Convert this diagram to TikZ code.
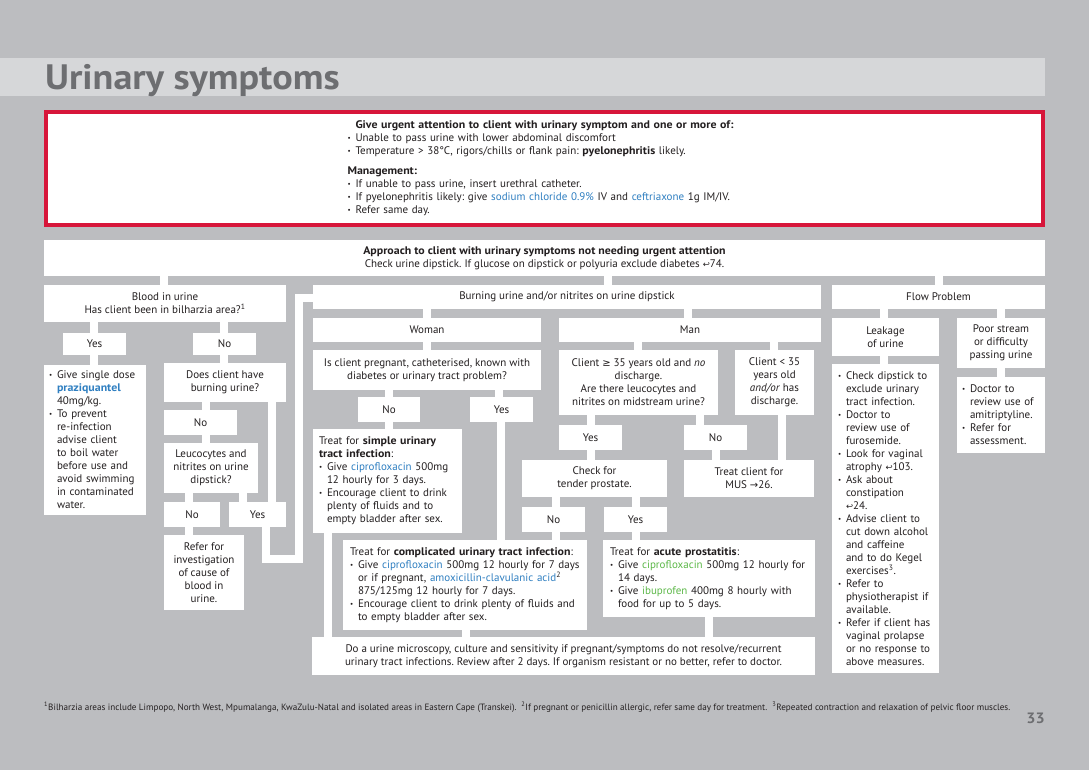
\documentclass[tikz,border=0pt]{standalone}
\usepackage{fontspec}
\setmainfont{PT Sans}[BoldFeatures={FakeStretch=1.08}]
\newfontfamily\dejavu{DejaVu Sans}
\definecolor{bg}{HTML}{BCBDC0}
\definecolor{band}{HTML}{D6D7D9}
\definecolor{redb}{HTML}{D7163A}
\definecolor{titlec}{HTML}{6D6E71}
\definecolor{drugblue}{HTML}{2F7FC1}
\definecolor{druggreen}{HTML}{5CB848}
\definecolor{txt}{HTML}{231F20}
\newcommand\blu[1]{\textcolor{drugblue}{#1}}
\newcommand\grn[1]{\textcolor{druggreen}{#1}}
\newcommand\bu{\makebox[8pt][l]{\fontsize{7}{7}\selectfont\raisebox{1.2pt}{•}}}
\newcommand\ind{\hspace*{8pt}}
\newcommand\hk{{\dejavu\fontsize{8.5}{8.5}\selectfont ↩}}
\newcommand\rarr{{\dejavu\fontsize{10}{10}\selectfont →}}
\newcommand\gesym{{\dejavu\fontsize{10}{10}\selectfont ≥}}
\newcommand\bx[6][]{\node[box,#1,minimum width={(#4-#2)*1pt},minimum height={(#5-#3)*1pt}] (#6) at ({(#2+#4)/2},{(#3+#5)/2})}
\frenchspacing
\begin{document}
\begin{tikzpicture}[x=1pt,y=-1pt,
  box/.style={fill=white,draw=none,inner sep=0pt,align=center,text=txt,font=\fontsize{11}{13}\selectfont},
  conn/.style={draw=white,line width=8pt,line join=miter}]
\useasboundingbox (0,0) rectangle (1089,770);
\fill[bg] (0,0) rectangle (1089,770);
\fill[band] (0,58) rectangle (1045,96);
\node[anchor=base west,inner sep=0pt,text=titlec,font=\fontsize{35.3}{36}\selectfont\bfseries] (title) at (45,90) {Urinary symptoms};
% urgent box
\node[box,draw=redb,line width=4pt,minimum width=997pt,minimum height=113pt,align=left,text width=394pt] (urgent) at (544.5,168.5)
{\makebox[394pt]{\bfseries Give urgent attention to client with urinary symptom and one or more of:}\\
\bu Unable to pass urine with lower abdominal discomfort\\
\bu Temperature > 38°C, rigors/chills or flank pain: \textbf{pyelonephritis} likely.\\[7pt]
\textbf{Management:}\\
\bu If unable to pass urine, insert urethral catheter.\\
\bu If pyelonephritis likely: give \blu{sodium chloride 0.9\%} IV and \blu{ceftriaxone} 1g IM/IV.\\
\bu Refer same day.};
% top
\bx{44}{240}{1045}{276}{top}{\textbf{Approach to client with urinary symptoms not needing urgent attention}\\Check urine dipstick. If glucose on dipstick or polyuria exclude diabetes \hk74.};
% row 2
\bx{44}{285}{286}{322}{blood}{Blood in urine\\Has client been in bilharzia area?\textsuperscript{1}};
\bx{313}{285}{821}{309}{burn}{Burning urine and/or nitrites on urine dipstick};
\bx{832}{285}{1045}{309}{flow}{Flow Problem};
% blood column
\bx{63}{333}{126}{355}{byes}{Yes};
\bx{193}{333}{256}{355}{bno}{No};
\bx[align=left,text width=92pt]{44}{365}{146}{515}{praz}{\bu Give single dose\\\ind\textbf{\blu{praziquantel}}\\\ind 40mg/kg.\\\bu To prevent\\\ind re-infection\\\ind advise client\\\ind to boil water\\\ind before use and\\\ind avoid swimming\\\ind in contaminated\\\ind water.};
\bx{164}{363}{286}{402}{does}{Does client have\\burning urine?};
\bx{164}{410}{237}{435}{lno}{No};
\bx{164}{443}{258}{493}{leuco}{Leucocytes and\\nitrites on urine\\dipstick?};
\bx{164}{502}{220}{527}{lno2}{No};
\bx{229}{502}{286}{527}{lyes}{Yes};
\bx{164}{535}{244}{610}{refer}{Refer for\\investigation\\of cause of\\blood in\\urine.};
% burning column
\bx{313}{318}{541}{342}{woman}{Woman};
\bx{559}{318}{821}{342}{man}{Man};
\bx{313}{350}{541}{390}{preg}{Is client pregnant, catheterised, known with\\diabetes or urinary tract problem?};
\bx{358}{397}{420}{422}{wno}{No};
\bx{470}{397}{533}{422}{wyes}{Yes};
\bx[align=left,text width=137pt]{313}{429}{462}{533}{simple}{Treat for \textbf{simple urinary}\\\textbf{tract infection}:\\\bu Give \blu{ciprofloxacin} 500mg\\\ind 12 hourly for 3 days.\\\bu Encourage client to drink\\\ind plenty of fluids and to\\\ind empty bladder after sex.};
\bx[align=left,text width=230pt]{343}{540}{587}{630}{comp}{Treat for \textbf{complicated urinary tract infection}:\\\bu Give \blu{ciprofloxacin} 500mg 12 hourly for 7 days\\\ind or if pregnant, \blu{amoxicillin-clavulanic acid}\textsuperscript{2}\\\ind 875/125mg 12 hourly for 7 days.\\\bu Encourage client to drink plenty of fluids and\\\ind to empty bladder after sex.};
\bx{559}{350}{718}{415}{old}{Client \gesym{} 35 years old and \emph{no}\\discharge.\\Are there leucocytes and\\nitrites on midstream urine?};
\bx{735}{350}{814}{415}{young}{Client < 35\\years old\\\emph{and/or} has\\discharge.};
\bx{559}{425}{622}{450}{myes}{Yes};
\bx{684}{425}{747}{450}{mno}{No};
\bx{522}{460}{667}{497}{check}{Check for\\tender prostate.};
\bx{684}{460}{814}{497}{mus}{Treat client for\\MUS \rarr26.};
\bx{522}{507}{585}{532}{pno}{No};
\bx{604}{507}{667}{532}{pyes}{Yes};
\bx[align=left,text width=198pt]{603}{540}{815}{617}{prost}{Treat for \textbf{acute prostatitis}:\\\bu Give \grn{ciprofloxacin} 500mg 12 hourly for\\\ind 14 days.\\\bu Give \grn{ibuprofen} 400mg 8 hourly with\\\ind food for up to 5 days.};
\bx{312}{637}{815}{675}{micro}{Do a urine microscopy, culture and sensitivity if pregnant/symptoms do not resolve/recurrent\\urinary tract infections. Review after 2 days. If organism resistant or no better, refer to doctor.};
% flow column
\bx{832}{318}{939}{356}{leak}{Leakage\\of urine};
\bx{957}{318}{1045}{368}{poor}{Poor stream\\or difficulty\\passing urine};
\bx[align=left,text width=95pt]{832}{364}{939}{673}{leaklist}{\bu Check dipstick to\\\ind exclude urinary\\\ind tract infection.\\\bu Doctor to\\\ind review use of\\\ind furosemide.\\\bu Look for vaginal\\\ind atrophy \hk103.\\\bu Ask about\\\ind constipation\\\ind \hk24.\\\bu Advise client to\\\ind cut down alcohol\\\ind and caffeine\\\ind and to do Kegel\\\ind exercises\textsuperscript{3}.\\\bu Refer to\\\ind physiotherapist if\\\ind available.\\\bu Refer if client has\\\ind vaginal prolapse\\\ind or no response to\\\ind above measures.};
\bx[align=left,text width=78pt]{957}{377}{1045}{453}{poorlist}{\bu Doctor to\\\ind review use of\\\ind amitriptyline.\\\bu Refer for\\\ind assessment.};
% connectors
\draw[conn] (top.south -| 164,0) -- (blood.north -| 164,0);
\draw[conn] (top.south -| 608,0) -- (burn.north -| 608,0);
\draw[conn] (top.south -| 939,0) -- (flow.north -| 939,0);
\draw[conn] (blood.south -| 94,0) -- (byes.north -| 94,0);
\draw[conn] (blood.south -| 224,0) -- (bno.north -| 224,0);
\draw[conn] (byes.south -| 94,0) -- (praz.north -| 94,0);
\draw[conn] (bno.south -| 224,0) -- (does.north -| 224,0);
\draw[conn] (does.south -| 206,0) -- (lno.north -| 206,0);
\draw[conn] (lno.south -| 206,0) -- (leuco.north -| 206,0);
\draw[conn] (leuco.south -| 189,0) -- (lno2.north -| 189,0);
\draw[conn] (leuco.south -| 243,0) -- (lyes.north -| 243,0);
\draw[conn] (does.south -| 272,0) -- (lyes.north -| 272,0);
\draw[conn] (lno2.south -| 189,0) -- (refer.north -| 189,0);
\draw[conn] (lyes.south -| 266,0) |- (298.5,559) |- (burn.west |- 0,297.5);
\draw[conn] (burn.south -| 427,0) -- (woman.north -| 427,0);
\draw[conn] (burn.south -| 688,0) -- (man.north -| 688,0);
\draw[conn] (woman.south -| 427,0) -- (preg.north -| 427,0);
\draw[conn] (preg.south -| 389,0) -- (wno.north -| 389,0);
\draw[conn] (preg.south -| 499,0) -- (wyes.north -| 499,0);
\draw[conn] (wno.south -| 389,0) -- (simple.north -| 389,0);
\draw[conn] (wyes.south -| 501,0) -- (comp.north -| 501,0);
\draw[conn] (simple.south -| 328,0) -- (micro.north -| 328,0);
\draw[conn] (comp.south -| 466,0) -- (micro.north -| 466,0);
\draw[conn] (man.south -| 638,0) -- (old.north -| 638,0);
\draw[conn] (man.south -| 774,0) -- (young.north -| 774,0);
\draw[conn] (old.south -| 591,0) -- (myes.north -| 591,0);
\draw[conn] (old.south -| 700,0) -- (mno.north -| 700,0);
\draw[conn] (myes.south -| 591,0) -- (check.north -| 591,0);
\draw[conn] (mno.south -| 716,0) -- (mus.north -| 716,0);
\draw[conn] (young.south -| 782,0) -- (mus.north -| 782,0);
\draw[conn] (check.south -| 556,0) -- (pno.north -| 556,0);
\draw[conn] (check.south -| 636,0) -- (pyes.north -| 636,0);
\draw[conn] (pno.south -| 556,0) -- (comp.north -| 556,0);
\draw[conn] (pyes.south -| 636,0) -- (prost.north -| 636,0);
\draw[conn] (prost.south -| 709,0) -- (micro.north -| 709,0);
\draw[conn] (flow.south -| 884,0) -- (leak.north -| 884,0);
\draw[conn] (flow.south -| 1001,0) -- (poor.north -| 1001,0);
\draw[conn] (leak.south -| 884,0) -- (leaklist.north -| 884,0);
\draw[conn] (poor.south -| 1001,0) -- (poorlist.north -| 1001,0);
% footnote and page number
\node[anchor=base west,inner sep=0pt,text=txt,font=\fontsize{8.3}{9}\selectfont] (foot) at (44,710) {\resizebox{966pt}{!}{\textsuperscript{1}Bilharzia areas include Limpopo, North West, Mpumalanga, KwaZulu-Natal and isolated areas in Eastern Cape (Transkei).\ \ \textsuperscript{2}If pregnant or penicillin allergic, refer same day for treatment.\ \ \textsuperscript{3}Repeated contraction and relaxation of pelvic floor muscles.}};
\node[anchor=base east,inner sep=0pt,text=titlec,font=\fontsize{15}{15}\selectfont\bfseries] (page) at (1045,723) {33};
\end{tikzpicture}
\end{document}
